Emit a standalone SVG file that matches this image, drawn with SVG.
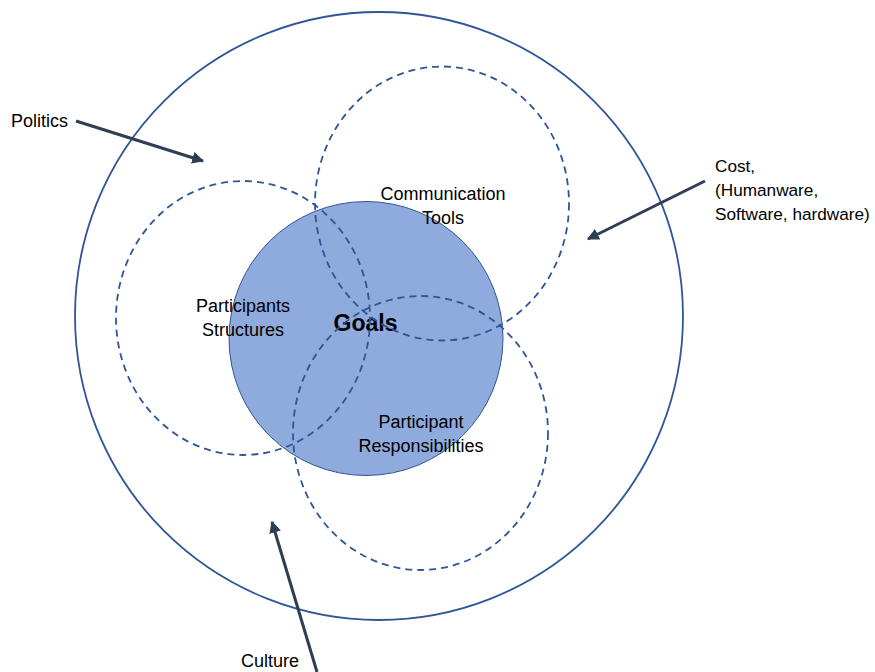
<svg xmlns="http://www.w3.org/2000/svg" width="875" height="672" viewBox="0 0 875 672">
<defs>
<marker id="ah" viewBox="0 0 10 10" refX="9" refY="5" markerWidth="4" markerHeight="4" orient="auto" markerUnits="strokeWidth">
<path d="M0,0 L10,5 L0,10 z" fill="#2e3e55"/>
</marker>
<style>
.t{font-family:"Liberation Sans",Arial,sans-serif;font-size:18px;fill:#000;}
.c{text-anchor:middle;}
.dash{fill:none;stroke:#2f5597;stroke-width:1.8;stroke-dasharray:7 5;}
.arr{stroke:#2e3e55;stroke-width:3;fill:none;marker-end:url(#ah);}
</style>
</defs>
<rect width="875" height="672" fill="#fff"/>
<g id="outer"><circle cx="379" cy="316" r="304" fill="none" stroke="#2f5597" stroke-width="1.8"/></g>
<g id="goals"><circle cx="366" cy="338.5" r="137" fill="#8faadc" stroke="#2f5597" stroke-width="1"/><text class="t c" x="365.5" y="331" style="font-weight:bold;font-size:23px">Goals</text></g>
<g id="communication"><ellipse class="dash" cx="442" cy="203.5" rx="127" ry="137"/><text class="t c" x="443" y="200">Communication</text><text class="t c" x="443" y="224">Tools</text></g>
<g id="participants"><ellipse class="dash" cx="243" cy="318" rx="127" ry="137"/><text class="t c" x="243" y="312">Participants</text><text class="t c" x="243" y="336">Structures</text></g>
<g id="responsibilities"><ellipse class="dash" cx="420.5" cy="433" rx="127.5" ry="137"/><text class="t c" x="421" y="428">Participant</text><text class="t c" x="421" y="452">Responsibilities</text></g>
<g id="politics"><text class="t" x="11" y="127">Politics</text></g>
<g id="cost"><text class="t" x="715" y="172" style="font-size:17.2px">Cost,</text><text class="t" x="715" y="196" style="font-size:17.2px">(Humanware,</text><text class="t" x="715" y="220" style="font-size:17.2px">Software, hardware)</text></g>
<g id="culture"><text class="t c" x="270" y="667">Culture</text></g>
<g id="connectors">
<line class="arr" x1="76" y1="121" x2="203" y2="161"/>
<line class="arr" x1="705" y1="181" x2="588" y2="239"/>
<line class="arr" x1="317" y1="672" x2="272" y2="522"/>
</g>
</svg>
